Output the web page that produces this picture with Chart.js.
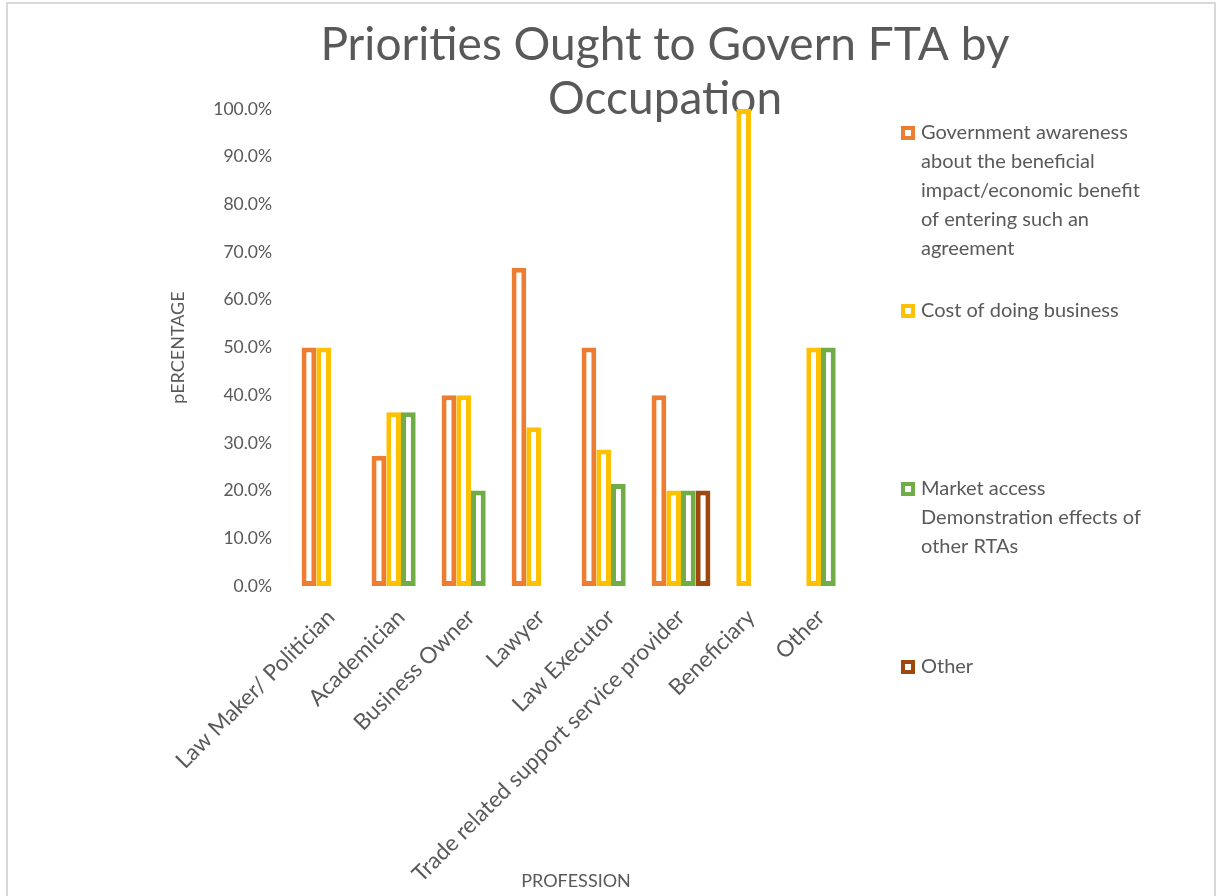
<!DOCTYPE html>
<html>
<head>
<meta charset="utf-8">
<title>Priorities Ought to Govern FTA by Occupation</title>
<script src="https://cdn.jsdelivr.net/npm/chart.js@4.4.1/dist/chart.umd.min.js"></script>
<style>
    html, body { margin: 0; padding: 0; background: #ffffff; }
    #chartWrap { position: relative; width: 1217px; height: 896px; }
</style>
</head>
<body>
<div id="chartWrap">
    <canvas id="ftaChart" width="1217" height="896"></canvas>
</div>
<script>
// Professions on the x axis
const professions = [
    'Law Maker/ Politician',
    'Academician',
    'Business Owner',
    'Lawyer',
    'Law Executor',
    'Trade related support service provider',
    'Beneficiary',
    'Other'
];

// Share of respondents (%) per priority, null where nobody picked it
const govAwareness   = [50.0, 27.3, 40.0, 66.7, 50.0, 40.0, null, null];
const costOfBusiness = [50.0, 36.4, 40.0, 33.3, 28.6, 20.0, 100.0, 50.0];
const marketAccess   = [null, 36.4, 20.0, null, 21.4, 20.0, null, 50.0];
const otherPriority  = [null, null, null, null, null, 20.0, null, null];

// Legend text, already wrapped the way it is shown
const legendLines = [
    ['Government awareness', 'about the beneficial', 'impact/economic benefit', 'of entering such an', 'agreement'],
    ['Cost of doing business'],
    ['Market access', 'Demonstration effects of', 'other RTAs'],
    ['Other']
];

const titleLines = ['Priorities Ought to Govern FTA by', 'Occupation'];

const yMin = 0;
const yMax = 100;
const yStep = 10;

const COLORS = ['#ED7D31', '#FFC000', '#70AD47', '#9E480E'];
const TEXT_COLOR = '#595959';
const FONT = 'Lato, "Open Sans", sans-serif';

/**
 * Light frame around the whole chart
 */
const framePlugin = {
    id: 'frame',
    beforeDraw(chart) {
        const ctx = chart.ctx;
        ctx.save();
        ctx.fillStyle = '#ffffff';
        ctx.fillRect(0, 0, chart.width, chart.height);
        ctx.strokeStyle = '#d9d9d9';
        ctx.lineWidth = 2;
        ctx.strokeRect(7, 3, chart.width - 9, chart.height + 10);
        ctx.restore();
    }
};

/**
 * Two-line chart title, drawn behind the bars
 */
const titlePlugin = {
    id: 'overlayTitle',
    beforeDatasetsDraw(chart) {
        const ctx = chart.ctx;
        const area = chart.chartArea;
        const cx = (area.left + area.right) / 2 + 89;
        ctx.save();
        ctx.fillStyle = TEXT_COLOR;
        ctx.font = '46px ' + FONT;
        ctx.textAlign = 'center';
        ctx.textBaseline = 'middle';
        titleLines.forEach((line, i) => {
            ctx.fillText(line, cx, 45 + i * 54);
        });
        ctx.restore();
    }
};

/**
 * Legend on the right with entries spread down the full height
 */
const sideLegendPlugin = {
    id: 'sideLegend',
    afterDraw(chart) {
        const ctx = chart.ctx;
        const x0 = chart.chartArea.right + 45;
        const lineHeight = 29;
        const gap = 178;
        ctx.save();
        ctx.font = '20px ' + FONT;
        ctx.textBaseline = 'middle';
        ctx.textAlign = 'left';
        chart.data.datasets.forEach((ds, i) => {
            const yTop = 133 + i * gap;
            // square marker: coloured outline with white centre
            ctx.fillStyle = ds.borderColor;
            ctx.fillRect(x0, yTop - 7, 14, 14);
            ctx.fillStyle = '#ffffff';
            ctx.fillRect(x0 + 4, yTop - 3, 6, 6);
            ctx.fillStyle = TEXT_COLOR;
            legendLines[i].forEach((line, j) => {
                ctx.fillText(line, x0 + 20, yTop + j * lineHeight);
            });
        });
        ctx.restore();
    }
};

function makeDataset(label, values, color) {
    return {
        label: label,
        data: values,
        backgroundColor: '#ffffff',
        borderColor: color,
        borderWidth: 5,
        borderSkipped: false,
        categoryPercentage: 0.84,
        barPercentage: 1.0
    };
}

const ctx = document.getElementById('ftaChart').getContext('2d');

new Chart(ctx, {
    type: 'bar',
    data: {
        labels: professions,
        datasets: [
            makeDataset(legendLines[0].join(' '), govAwareness, COLORS[0]),
            makeDataset(legendLines[1].join(' '), costOfBusiness, COLORS[1]),
            makeDataset(legendLines[2].join(' '), marketAccess, COLORS[2]),
            makeDataset(legendLines[3].join(' '), otherPriority, COLORS[3])
        ]
    },
    options: {
        responsive: false,
        animation: false,
        layout: {
            padding: { left: 160, right: 361, top: 109, bottom: 0 }
        },
        plugins: {
            legend: { display: false },
            title: { display: false },
            tooltip: { enabled: false }
        },
        scales: {
            x: {
                grid: { display: false },
                border: { display: false },
                ticks: {
                    autoSkip: false,
                    minRotation: 45,
                    maxRotation: 45,
                    padding: 10,
                    color: TEXT_COLOR,
                    font: { family: FONT, size: 22.5 }
                },
                title: {
                    display: true,
                    text: 'PROFESSION',
                    color: TEXT_COLOR,
                    font: { family: FONT, size: 18 },
                    padding: { top: 0, bottom: 4 }
                },
                afterFit(scale) {
                    scale.height = 896 - 586;
                }
            },
            y: {
                min: yMin,
                max: yMax,
                grid: { display: false },
                border: { display: false },
                ticks: {
                    stepSize: yStep,
                    padding: 16,
                    color: TEXT_COLOR,
                    font: { family: FONT, size: 17.5 },
                    callback: function(value) {
                        return value.toFixed(1) + '%';
                    }
                },
                title: {
                    display: true,
                    text: 'pERCENTAGE',
                    color: TEXT_COLOR,
                    font: { family: FONT, size: 18 },
                    padding: { top: 7, bottom: 0 }
                },
                afterFit(scale) {
                    scale.width = 296 - 160;
                }
            }
        }
    },
    plugins: [framePlugin, titlePlugin, sideLegendPlugin]
});
</script>
</body>
</html>
